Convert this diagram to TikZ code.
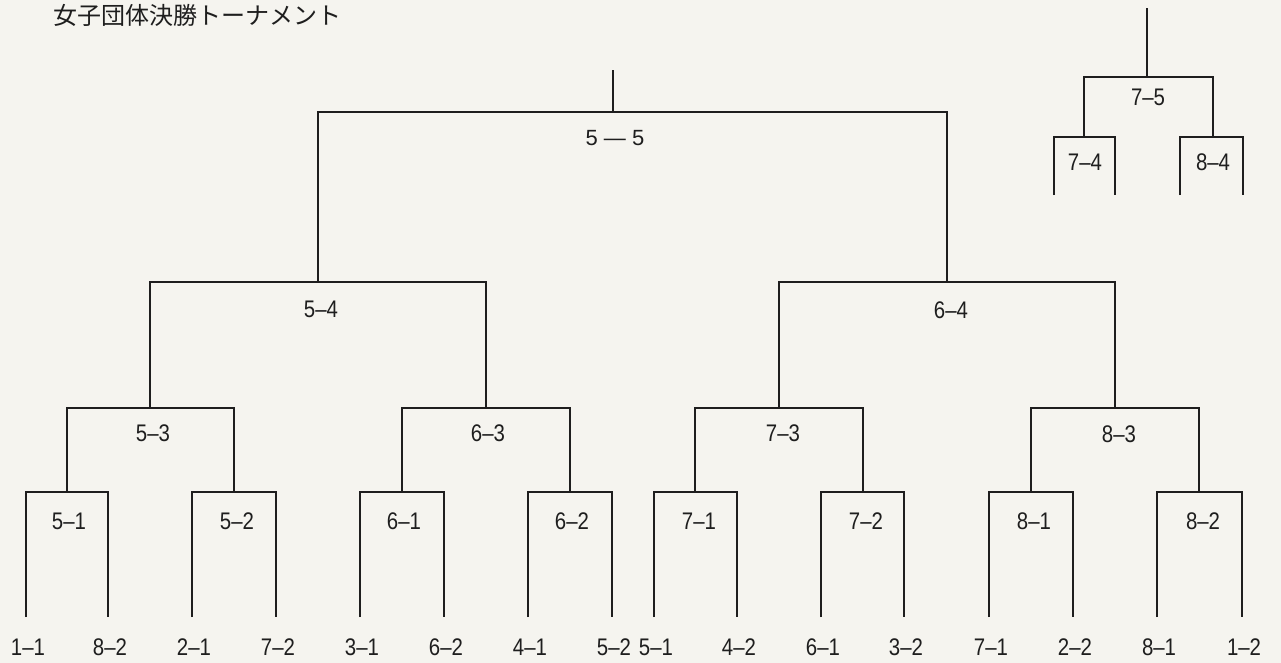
\documentclass[tikz,border=0pt]{standalone}
\usepackage{fontspec}
\newfontfamily\cjkfont{Noto Sans CJK JP}
\newfontfamily\numfont[FakeStretch=0.85]{Liberation Sans}
\newfontfamily\widefont{Liberation Sans}
\definecolor{paper}{RGB}{245,244,239}
\definecolor{ink}{RGB}{30,30,30}
\begin{document}
\begin{tikzpicture}[x=1pt,y=-1pt,
  line/.style={line width=1.5pt, draw=ink},
  lab/.style={font=\numfont\fontsize{24}{24}\selectfont, text=ink, inner sep=0pt},
  titlestyle/.style={font=\cjkfont\fontsize{24}{24}\selectfont, text=ink, inner sep=0pt, anchor=west}]
\useasboundingbox[fill=paper] (0,0) rectangle (1281,663);

\node[titlestyle] (title) at (53,15) {女子団体決勝トーナメント};

% leaves
\foreach \n/\x in {1/26,2/108,3/192,4/276,5/360,6/444,7/528,8/612,9/654,10/737,11/821,12/904,13/989,14/1073,15/1157,16/1242}
  \coordinate (L\n) at (\x,617);
% round 1
\coordinate (m51) at (67,492);
\coordinate (m52) at (234,492);
\coordinate (m61) at (402,492);
\coordinate (m62) at (570,492);
\coordinate (m71) at (695,492);
\coordinate (m72) at (863,492);
\coordinate (m81) at (1031,492);
\coordinate (m82) at (1199,492);
% round 2
\coordinate (m53) at (150,408);
\coordinate (m63) at (486,408);
\coordinate (m73) at (779,408);
\coordinate (m83) at (1115,408);
% round 3
\coordinate (m54) at (318,282);
\coordinate (m64) at (947,282);
% final
\coordinate (m55) at (613,112);
\coordinate (top) at (613,70);

\draw[line] (L1) |- (m51) -| (L2);
\draw[line] (L3) |- (m52) -| (L4);
\draw[line] (L5) |- (m61) -| (L6);
\draw[line] (L7) |- (m62) -| (L8);
\draw[line] (L9) |- (m71) -| (L10);
\draw[line] (L11) |- (m72) -| (L12);
\draw[line] (L13) |- (m81) -| (L14);
\draw[line] (L15) |- (m82) -| (L16);
\draw[line] (m51) |- (m53) -| (m52);
\draw[line] (m61) |- (m63) -| (m62);
\draw[line] (m71) |- (m73) -| (m72);
\draw[line] (m81) |- (m83) -| (m82);
\draw[line] (m53) |- (m54) -| (m63);
\draw[line] (m73) |- (m64) -| (m83);
\draw[line] (m54) |- (m55) -| (m64);
\draw[line] (m55) -- (top);

% leaf labels
\foreach \n/\t in {1/1–1,2/8–2,3/2–1,4/7–2,5/3–1,6/6–2,7/4–1,8/5–2,9/5–1,10/4–2,11/6–1,12/3–2,13/7–1,14/2–2,15/8–1,16/1–2}
  \node[lab] (t\n) at ([xshift=2pt,yshift=-30pt]L\n) {\t};

% match labels
\node[lab] (l51) at (69,521) {5–1};
\node[lab] (l52) at (237,521) {5–2};
\node[lab] (l61) at (404,521) {6–1};
\node[lab] (l62) at (572,521) {6–2};
\node[lab] (l71) at (699,521) {7–1};
\node[lab] (l72) at (866,521) {7–2};
\node[lab] (l81) at (1034,521) {8–1};
\node[lab] (l82) at (1203,521) {8–2};
\node[lab] (l53) at (153,433) {5–3};
\node[lab] (l63) at (488,433) {6–3};
\node[lab] (l73) at (783,433) {7–3};
\node[lab] (l83) at (1119,434) {8–3};
\node[lab] (l54) at (321,309) {5–4};
\node[lab] (l64) at (951,310) {6–4};
\node[font=\widefont\fontsize{22}{22}\selectfont, text=ink, inner sep=0pt] (l55) at (615,138) {5 — 5};

% top-right small bracket
\coordinate (rtop) at (1147,8);
\coordinate (r75) at (1147,77);
\coordinate (r74) at (1084,137);
\coordinate (r84) at (1213,137);
\coordinate (ra) at (1054,195);
\coordinate (rb) at (1115,195);
\coordinate (rc) at (1180,195);
\coordinate (rd) at (1243,195);
\draw[line] (r75) -- (rtop);
\draw[line] (r74) |- (r75) -| (r84);
\draw[line] (ra) |- (r74) -| (rb);
\draw[line] (rc) |- (r84) -| (rd);
\node[lab] (l75) at (1148,97) {7–5};
\node[lab] (l74) at (1085,162) {7–4};
\node[lab] (l84) at (1213,162) {8–4};
\end{tikzpicture}
\end{document}
